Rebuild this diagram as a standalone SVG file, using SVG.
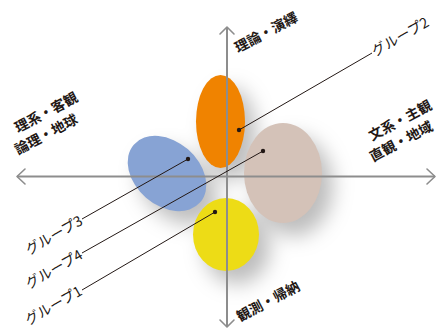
<svg xmlns="http://www.w3.org/2000/svg" width="437" height="329" viewBox="0 0 437 329">
  <defs>
    <filter id="shadow" x="-60%" y="-60%" width="220%" height="220%">
      <feGaussianBlur in="SourceAlpha" stdDeviation="10"/>
      <feOffset dx="11" dy="13" result="b"/>
      <feFlood flood-color="#000" flood-opacity="0.26"/>
      <feComposite in2="b" operator="in"/>
    </filter>
  </defs>
  <style>
    .axis { stroke: #8d8d8d; stroke-width: 2; fill: none; }
    .head { stroke: #8d8d8d; stroke-width: 1.6; fill: none; stroke-linecap: round; stroke-linejoin: round; }
    .lead { stroke: #231815; stroke-width: 1; fill: none; }
    .dot { fill: #231815; }
    .ax { font-family: "Noto Sans CJK JP", sans-serif; font-size: 13.8px; font-weight: 700; fill: #231815; }
    .gl { font-family: "Noto Sans CJK JP", sans-serif; font-size: 14px; font-weight: 400; fill: #231815; }
  </style>

  <g id="shadows" filter="url(#shadow)">
    <ellipse cx="220.5" cy="121.5" rx="24.5" ry="46.5"/>
    <ellipse cx="167" cy="173.5" rx="44" ry="32" transform="rotate(41 167 173.5)"/>
    <ellipse cx="283" cy="173" rx="39" ry="50"/>
    <ellipse cx="226" cy="234.5" rx="33" ry="36.5"/>
  </g>

  <g id="group1"><ellipse cx="226" cy="234.5" rx="33" ry="36.5" fill="#eddc16"/></g>
  <g id="group2"><ellipse cx="220.5" cy="121.5" rx="24.5" ry="46.5" fill="#f08300"/></g>
  <g id="group3"><ellipse cx="167" cy="173.5" rx="44" ry="32" transform="rotate(41 167 173.5)" fill="#87a3d4"/></g>
  <g id="group4"><ellipse cx="283" cy="173" rx="39" ry="50" fill="#d4c2b8"/></g>

  <g id="axes">
    <line class="axis" x1="227" y1="27" x2="227" y2="327"/>
    <line class="axis" x1="17" y1="176.5" x2="435" y2="176.5"/>
    <polyline class="head" points="220,34 227,27 234,34"/>
    <polyline class="head" points="220,320 227,327 234,320"/>
    <polyline class="head" points="25,169 17,176.5 25,184"/>
    <polyline class="head" points="427,169 435,176.5 427,184"/>
  </g>

  <g id="connectors">
    <line class="lead" x1="239" y1="130" x2="372" y2="53"/>
    <line class="lead" x1="263" y1="151" x2="82" y2="253"/>
    <line class="lead" x1="188" y1="159" x2="82" y2="219"/>
    <line class="lead" x1="215" y1="212" x2="82" y2="290"/>
    <circle class="dot" cx="239" cy="130" r="2.2"/>
    <circle class="dot" cx="263" cy="151" r="2.2"/>
    <circle class="dot" cx="188" cy="159" r="2.2"/>
    <circle class="dot" cx="215" cy="212" r="2.2"/>
  </g>

  <g id="labels">
    <text class="gl" transform="translate(374.5,57.3) rotate(-30)" x="1">グループ2</text>
    <text class="gl" transform="translate(84.5,223.3) rotate(-30)" x="-1" text-anchor="end">グループ3</text>
    <text class="gl" transform="translate(84.5,257.3) rotate(-30)" x="-1" text-anchor="end">グループ4</text>
    <text class="gl" transform="translate(84,293.5) rotate(-30)" x="-1" text-anchor="end">グループ1</text>

    <text class="ax" transform="translate(238,53) rotate(-28)">理論・演繹</text>
    <text class="ax" transform="translate(372,141) rotate(-28)">文系・主観</text>
    <text class="ax" transform="translate(373,162) rotate(-28)">直観・地域</text>
    <text class="ax" transform="translate(18,133) rotate(-28)">理系・客観</text>
    <text class="ax" transform="translate(18,155) rotate(-28)">論理・地球</text>
    <text class="ax" transform="translate(240,322) rotate(-28)">観測・帰納</text>
  </g>
</svg>
